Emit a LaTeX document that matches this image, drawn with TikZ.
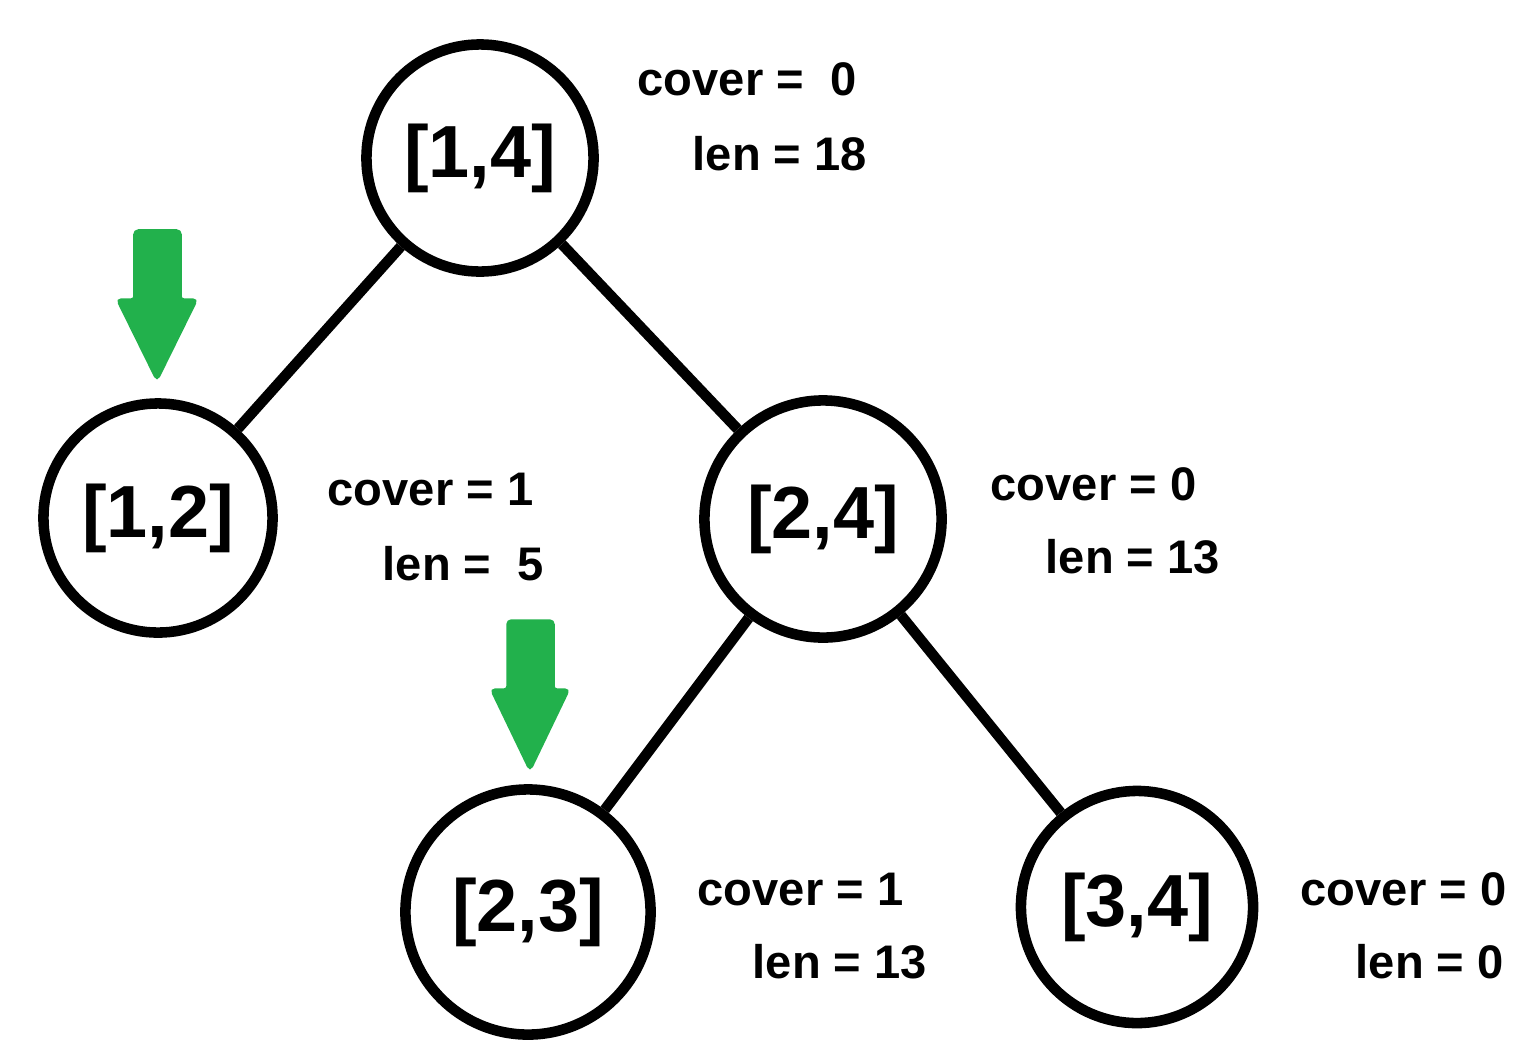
\documentclass[tikz,border=0pt]{standalone}
\usepackage{fontspec}
\setmainfont{Liberation Sans}
\definecolor{paintgreen}{HTML}{22B14C}
\tikzset{
  seg/.style={circle, draw=black, line width=3pt, minimum size=2.3cm, inner sep=0pt, font=\fontsize{21}{23}\selectfont\bfseries},
  info/.style={anchor=base west, inner sep=0pt, font=\fontsize{13.4}{15}\selectfont\bfseries},
  edge/.style={line width=3pt},
  marker/.style={fill=paintgreen, draw=paintgreen, line width=1pt, rounded corners=1pt}
}
\begin{document}
\begin{tikzpicture}[x=0.01cm, y=-0.01cm]
\useasboundingbox (0,0) rectangle (1540,1042);
% nodes
\node[seg, minimum size=2.27cm] (n14) at (480,158) {[1,4]};
\node[seg, minimum size=2.29cm] (n12) at (158,518) {[1,2]};
\node[seg, minimum size=2.37cm] (n24) at (823,519) {[2,4]};
\node[seg, minimum size=2.45cm] (n23) at (528,912) {[2,3]};
\node[seg, minimum size=2.32cm] (n34) at (1137,907) {[3,4]};
% edges
\draw[edge] (n14) -- (n12);
\draw[edge] (n14) -- (n24);
\draw[edge] (n24) -- (n23);
\draw[edge] (n24) -- (n34);
% labels
\node[info] (c14) at (637,95) {cover =\ \ 0};
\node[info] (l14) at (692,170) {len = 18};
\node[info] (c12) at (327,505) {cover = 1};
\node[info] (l12) at (382,580) {len =\ \ 5};
\node[info] (c24) at (990,500) {cover = 0};
\node[info] (l24) at (1045,573) {len = 13};
\node[info] (c23) at (697,905) {cover = 1};
\node[info] (l23) at (752,978) {len = 13};
\node[info] (c34) at (1300,905) {cover = 0};
\node[info] (l34) at (1355,978) {len = 0};
% green arrows
\fill[marker] (135,231) -- (180,231) -- (180,300) -- (196,300) -- (157,379) -- (118,300) -- (135,300) -- cycle;
\fill[marker] (508,621) -- (553,621) -- (553,690) -- (568,690) -- (530,769) -- (492,690) -- (508,690) -- cycle;
\end{tikzpicture}
\end{document}
